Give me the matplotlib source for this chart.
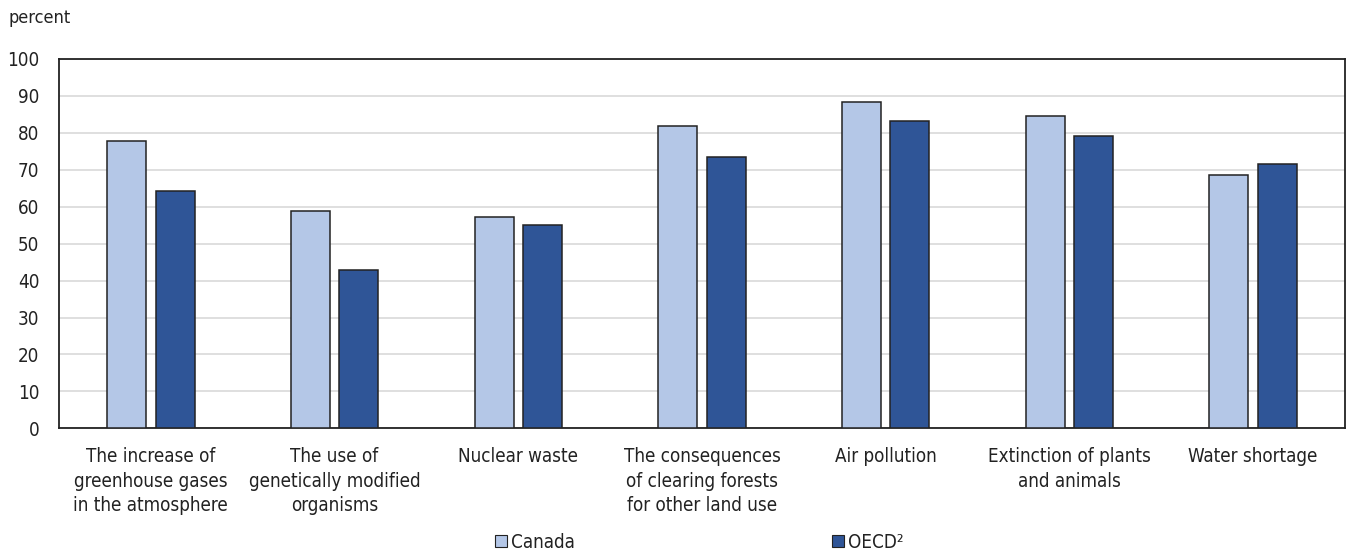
import numpy as np
import matplotlib
matplotlib.use("Agg")
import matplotlib.pyplot as plt
from matplotlib.patches import Patch

plt.rcParams['font.family'] = ['DejaVu Sans']
plt.rcParams['font.stretch'] = 'condensed'

categories = ["The increase of\ngreenhouse gases\nin the atmosphere",
              "The use of\ngenetically modified\norganisms",
              "Nuclear waste",
              "The consequences\nof clearing forests\nfor other land use",
              "Air pollution",
              "Extinction of plants\nand animals",
              "Water shortage"]
canada = [77.8, 58.9, 57.1, 81.9, 88.3, 84.6, 68.5]
oecd = [64.2, 42.8, 55.0, 73.5, 83.3, 79.1, 71.5]
series_names = ["Canada", "OECD\u00b2"]

light = "#b4c7e7"
dark = "#2f5597"
text_col = "#222222"

fig = plt.figure(figsize=(13.46, 5.52), dpi=100)
ax = fig.add_axes([59/1346, 1 - 428.3/552, 1286/1346, 369.3/552])

x = np.arange(len(categories))
w = 0.212
off = 0.132
ax.bar(x - off, canada, w, color=light, edgecolor="#222222", linewidth=1.1, zorder=3)
ax.bar(x + off, oecd, w, color=dark, edgecolor="#222222", linewidth=1.1, zorder=3)

ax.set_xlim(-0.5, len(categories) - 0.5)
ax.set_ylim(0, 100)
ax.set_yticks(range(0, 101, 10))
ax.yaxis.grid(True, color="#d9d9d9", linewidth=1.2, zorder=0)
ax.set_axisbelow(True)
ax.set_xticks(x)
ax.set_xticklabels(categories, fontsize=13.5, color=text_col, linespacing=1.38)
ax.tick_params(axis="y", length=0, pad=14, labelsize=13.5, labelcolor=text_col)
ax.tick_params(axis="x", length=0, pad=13.5)
for s in ax.spines.values():
    s.set_color("#222222")
    s.set_linewidth(1.3)

fig.text(8/1346, 1 - 18/552, "percent", fontsize=13, color=text_col, va="center", ha="left")

handles = [Patch(facecolor=light, edgecolor="#222222", linewidth=0.8),
           Patch(facecolor=dark, edgecolor="#222222", linewidth=0.8)]
fig.legend(handles, series_names, loc="center", bbox_to_anchor=(699/1346, 1 - 542/552),
           ncol=2, frameon=False, fontsize=13.5, handlelength=0.65, handleheight=0.65,
           handletextpad=0.2, columnspacing=13.7, labelcolor=text_col)

fig.savefig("out.png", dpi=100)
